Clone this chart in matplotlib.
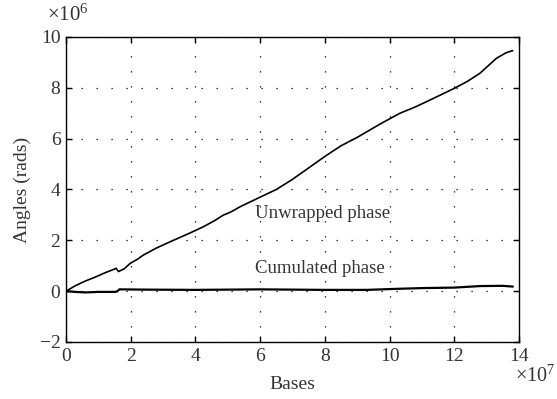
import matplotlib
matplotlib.use('Agg')
import matplotlib.pyplot as plt
import numpy as np

plt.rcParams['font.family'] = ['Liberation Serif', 'DejaVu Serif']
plt.rcParams['mathtext.fontset'] = 'custom'
plt.rcParams['mathtext.rm'] = 'Liberation Serif'
plt.rcParams['mathtext.it'] = 'Liberation Serif:italic'
plt.rcParams['text.color'] = '#333333'
plt.rcParams['xtick.labelcolor'] = '#333333'
plt.rcParams['ytick.labelcolor'] = '#333333'
plt.rcParams['axes.labelcolor'] = '#333333'

# Bases (x1e7) and angles (x1e6)
unwrapped_x = [0.0, 0.3, 0.6, 0.9, 1.2, 1.5, 1.55, 1.62, 1.8, 1.98, 2.2, 2.39,
               2.8, 3.32, 3.8, 4.24, 4.6, 4.86, 5.1, 5.38, 6.0, 6.5, 7.0,
               7.5, 8.0, 8.5, 9.0, 9.7, 10.32, 10.8, 11.25, 12.0, 12.4,
               12.79, 13.3, 13.6, 13.8]
unwrapped_y = [0.0, 0.22, 0.4, 0.55, 0.72, 0.87, 0.9, 0.77, 0.88, 1.09, 1.25,
               1.42, 1.7, 2.0, 2.27, 2.53, 2.78, 2.99, 3.12, 3.32, 3.7, 4.0,
               4.4, 4.85, 5.3, 5.72, 6.05, 6.57, 7.0, 7.25, 7.52, 7.98,
               8.25, 8.57, 9.16, 9.38, 9.46]

cumulated_x = [0.0, 0.3, 0.6, 1.0, 1.5, 1.58, 1.65, 2.5, 4.0, 6.0, 8.0, 9.3,
               10.2, 11.0, 12.0, 12.8, 13.5, 13.8]
cumulated_y = [0.0, -0.03, -0.05, -0.03, -0.03, -0.01, 0.07, 0.06, 0.05, 0.07,
               0.05, 0.05, 0.09, 0.12, 0.14, 0.2, 0.21, 0.18]

fig = plt.figure(figsize=(5.57, 3.99), dpi=100)
ax = fig.add_axes([0.1185, 0.1429, 0.8133, 0.7644])

ax.plot(unwrapped_x, unwrapped_y, color='black', linewidth=1.2)
ax.plot(cumulated_x, cumulated_y, color='black', linewidth=1.6)

ax.set_xlim(0, 14)
ax.set_ylim(-2, 10)
ax.set_xticks(np.arange(0, 15, 2))
ax.set_yticks(np.arange(-2, 11, 2))
ax.set_yticklabels(['\u22122', '0', '2', '4', '6', '8', '10'])
ax.grid(True, linestyle=(0, (1, 11)), color='black', linewidth=0.9)
ax.tick_params(direction='in', top=True, right=True, labelsize=14, length=4,
               width=1, pad=4)
for s in ax.spines.values():
    s.set_linewidth(1.0)

ax.set_xlabel('Bases', fontsize=14, labelpad=8)
ax.set_ylabel('Angles (rads)', fontsize=14, labelpad=6)

ax.text(5.84, 3.07, 'Unwrapped phase', fontsize=13.5, va='center', ha='left')
ax.text(5.84, 0.9, 'Cumulated phase', fontsize=13.5, va='center', ha='left')

fig.text(0.084, 0.962, r'$\times10^{6}$', fontsize=15, ha='left', va='center')
fig.text(0.997, 0.058, r'$\times10^{7}$', fontsize=14.5, ha='right', va='center')

fig.savefig('out.png', dpi=100)
